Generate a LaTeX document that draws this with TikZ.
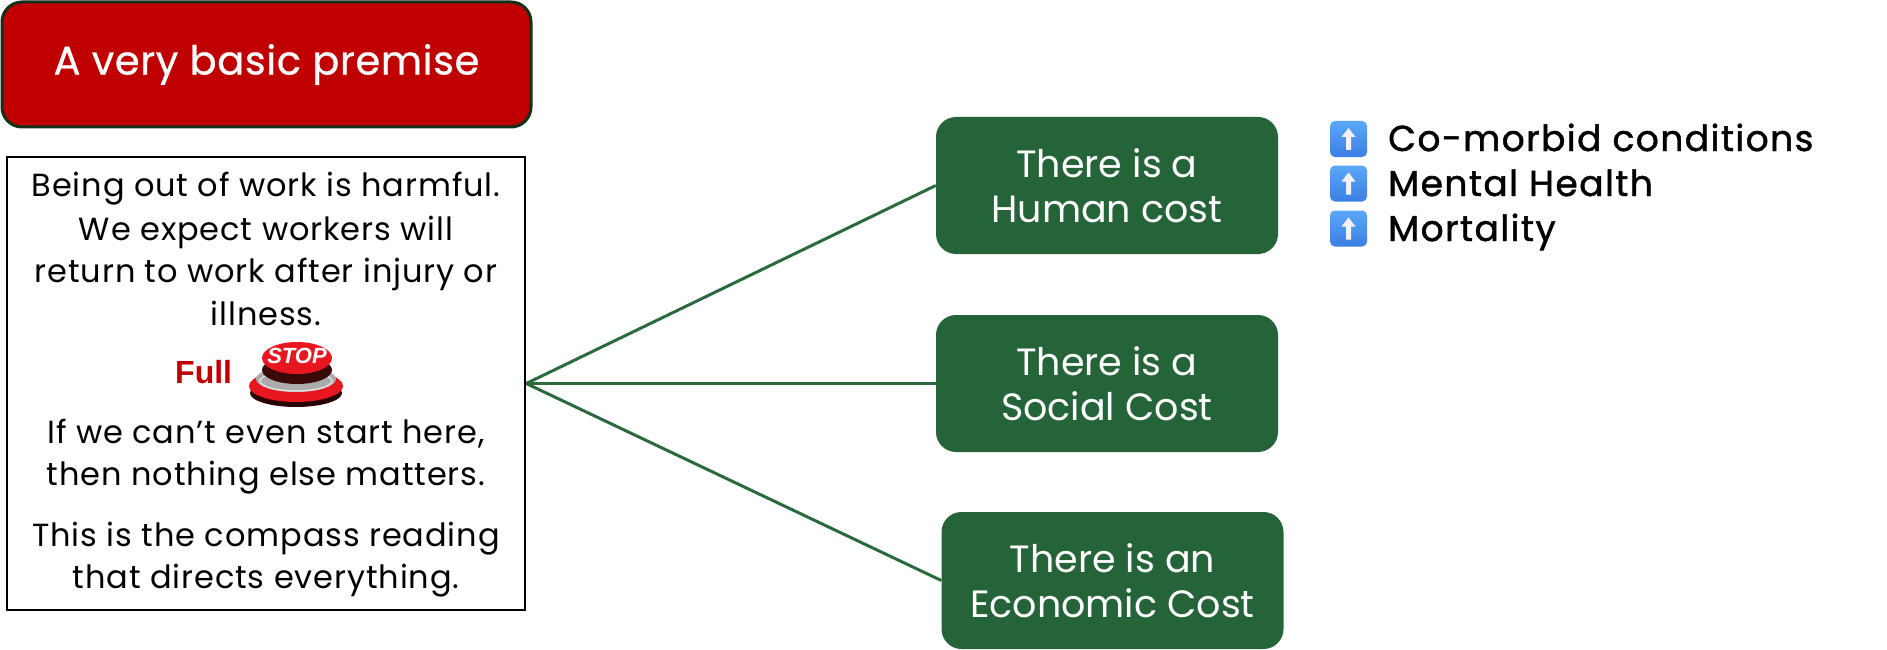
\documentclass[tikz,border=0pt]{standalone}
\usepackage{fontspec}
\setmainfont{Poppins}
\newfontfamily\libsans{Liberation Sans}
\newfontfamily\bodyfont{Poppins}[LetterSpace=2.8]
\newfontfamily\titlefont{Poppins}[LetterSpace=1.5, FakeBold=0.6]
\newfontfamily\bulletfont{Poppins}[LetterSpace=4, FakeBold=1.3]
\definecolor{titlered}{HTML}{C00000}
\definecolor{titleborder}{HTML}{12301A}
\definecolor{costgreen}{HTML}{256339}
\definecolor{linkgreen}{HTML}{2A6A3C}
\definecolor{stopred}{HTML}{E8161E}
\definecolor{stopside}{HTML}{3A0A0A}
\definecolor{stopbase}{HTML}{2A0505}
\definecolor{icontop}{HTML}{5AA8FA}
\definecolor{iconbot}{HTML}{3B7FE2}
\definecolor{arrowwhite}{HTML}{F6F0FF}
\begin{document}
\begin{tikzpicture}[x=1pt,y=-1pt,
  titlebox/.style={draw=titleborder, line width=3pt, fill=titlered, rounded corners=20pt,
    minimum width=529pt, minimum height=125pt, text=white, inner sep=0pt,
    font=\titlefont\fontsize{40}{48}\selectfont},
  notebox/.style={draw=black, line width=2.5pt, minimum width=518pt, minimum height=453pt, inner sep=0pt},
  bodyline/.style={anchor=base, inner sep=0pt, font=\bodyfont\fontsize{32}{43}\selectfont},
  fullword/.style={anchor=base west, inner sep=0pt, text=titlered, font=\libsans\bfseries\fontsize{32}{38}\selectfont},
  stoplabel/.style={inner sep=0pt, text=white, font=\libsans\bfseries\itshape\fontsize{22}{24}\selectfont},
  costbox/.style={fill=costgreen, rounded corners=20pt, minimum width=342pt, minimum height=137pt,
    text=white, align=center, inner sep=0pt, font=\fontsize{38}{45}\selectfont},
  link/.style={draw=linkgreen, line width=3pt},
  upicon/.style={rounded corners=5pt, top color=icontop, bottom color=iconbot, draw=none,
    minimum width=37pt, minimum height=36pt, inner sep=0pt},
  bullettext/.style={anchor=base west, inner sep=0pt, font=\bulletfont\fontsize{36}{45}\selectfont}
]
\useasboundingbox (0,0) rectangle (1887,650);

% title
\node[titlebox] (title) at (266.5,64.5) {A very basic premise};

% premise box
\node[notebox] (premise) at (266,383.5) {};
\node[bodyline] (l1) at (266,196.7) {Being out of work is harmful.};
\node[bodyline] (l2) at (266,240) {We expect workers will};
\node[bodyline] (l3) at (266,282.7) {return to work after injury or};
\node[bodyline] (l4) at (266,325) {illness.};
\node[fullword] (full) at (175,383) {Full};
\node[bodyline] (l5) at (266,443) {If we can’t even start here,};
\node[bodyline] (l6) at (266,485) {then nothing else matters.};
\node[bodyline] (l7) at (266,546) {This is the compass reading};
\node[bodyline] (l8) at (266,588) {that directs everything.};

% stop button
\fill[stopbase] (296,393) ellipse [x radius=46, y radius=14];
\fill[stopred] (296,386) ellipse [x radius=47, y radius=16];
\fill[gray!65] (296,379) ellipse [x radius=40, y radius=13];
\draw[gray!25, line width=1.5pt] (296,381) ellipse [x radius=36, y radius=10];
\fill[stopside] (297,370) ellipse [x radius=35, y radius=14];
\fill[stopred] (297,358) ellipse [x radius=35, y radius=16];
\node[stoplabel] (stop) at (297,356) {STOP};

% cost boxes
\node[costbox] (human) at (1107,185.5) {There is a\\Human cost};
\node[costbox] (social) at (1107,383.5) {There is a\\Social Cost};
\node[costbox] (econ) at (1112.5,580.5) {There is an\\Economic Cost};

\draw[link] (premise.east) -- (human.west);
\draw[link] (premise.east) -- (social.west);
\draw[link] (premise.east) -- (econ.west);

% bullets
\foreach \n/\cy/\by/\t in {1/139/151/Co-morbid conditions, 2/183.5/196/Mental Health, 3/228.5/241/Mortality}{
  \node[upicon] (icon\n) at (1348.5,\cy) {};
  \fill[arrowwhite] ([shift={(0,-11)}]icon\n.center) -- ++(7,9) -- ++(-4.5,0) -- ++(0,13)
     -- ++(-5,0) -- ++(0,-13) -- ++(-4.5,0) -- cycle;
  \node[bullettext] (item\n) at (1388,\by) {\t};
}
\end{tikzpicture}
\end{document}
